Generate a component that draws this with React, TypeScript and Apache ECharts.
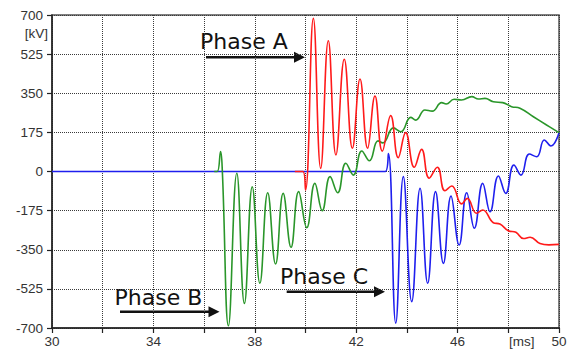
import React, { useEffect, useRef } from "react";
import * as echarts from "echarts";

// Time axis [ms] and voltage axis [kV]
const xLabelValues = [30, 34, 38, 42, 46, 50];
const yTickValues = [-700, -525, -350, -175, 0, 175, 350, 525, 700];

// Phase A (red): [time ms, kV]
const phaseA: [number, number][] = [
  [39.58, 0], [39.9, 0], [40.0, -83], [40.31, 685], [40.6, 14], [40.9, 585],
  [41.2, 74], [41.53, 502], [41.85, 104], [42.15, 414], [42.45, 104], [42.74, 338],
  [43.03, 91], [43.36, 250], [43.66, 62], [43.95, 174], [44.29, 19], [44.58, 99],
  [44.88, -30], [45.2, 19], [45.5, -86], [45.77, -65], [46.16, -145], [46.38, -120],
  [46.75, -187], [46.99, -172], [47.41, -229], [47.67, -235], [48.0, -265],
  [48.3, -272], [48.6, -300], [48.86, -294], [49.25, -322], [49.6, -328], [50, -326],
];

// Phase B (green)
const phaseB: [number, number][] = [
  [36.4, 0], [36.52, 0], [36.65, 89], [36.72, 0], [36.96, -690], [37.29, -8],
  [37.59, -590], [37.9, -68], [38.2, -500], [38.51, -95], [38.82, -414], [39.12, -98],
  [39.43, -339], [39.73, -90], [40.05, -251], [40.37, -53], [40.66, -175], [40.97, -23],
  [41.27, -95], [41.59, 37], [41.89, -16], [42.22, 92], [42.52, 48], [42.86, 137],
  [43.05, 128], [43.47, 195], [43.76, 178], [44.15, 242], [44.35, 230], [44.71, 275],
  [45.0, 270], [45.37, 308], [45.55, 302], [45.86, 323], [46.16, 320], [46.56, 335],
  [46.82, 324], [47.08, 327], [47.41, 312], [47.78, 308], [48.13, 290], [48.46, 283],
  [48.99, 245], [49.51, 208], [50, 174],
];

// Phase C (blue)
const phaseC: [number, number][] = [
  [30, 0], [43.15, 0], [43.27, 80], [43.56, -678], [43.86, -23], [44.19, -582],
  [44.52, -75], [44.82, -500], [45.13, -90], [45.44, -411], [45.74, -110], [46.06, -329],
  [46.36, -95], [46.66, -254], [46.99, -53], [47.28, -180], [47.61, -20], [47.9, -98],
  [48.22, 29], [48.5, -16], [48.83, 78], [49.12, 66], [49.42, 141], [49.68, 114], [50, 174],
];

const labelFont = "Liberation Sans, Arial, sans-serif";
const annFont = "DejaVu Sans, Verdana, sans-serif";

function arrow(x1: number, x2: number, y: number) {
  return [
    { type: "line", shape: { x1, y1: y, x2: x2 - 8, y2: y }, style: { stroke: "#111", lineWidth: 2.5 } },
    {
      type: "polygon",
      shape: { points: [[x2, y], [x2 - 11, y - 5.5], [x2 - 11, y + 5.5]] },
      style: { fill: "#111" },
    },
  ];
}

export default function App() {
  const ref = useRef<HTMLDivElement>(null);
  useEffect(() => {
    if (!ref.current) return;
    const chart = echarts.init(ref.current, undefined, { renderer: "svg" });
    const lineSeries = (name: string, data: [number, number][], color: string) => ({
      name,
      type: "line",
      data,
      smooth: 0.45,
      symbol: "none",
      lineStyle: { color, width: 1.6 },
    });
    chart.setOption({
      animation: false,
      backgroundColor: "#fff",
      grid: {
        left: 52, right: 12, top: 15, bottom: 25,
        show: true, borderColor: "#555", borderWidth: 1.5, backgroundColor: "transparent",
      },
      xAxis: {
        type: "value", min: 30, max: 50, interval: 2,
        axisLine: { show: true, onZero: false, lineStyle: { color: "#222", width: 1.5 } },
        axisTick: { show: true, length: 5, lineStyle: { color: "#222", width: 1.2 } },
        axisLabel: {
          margin: 6, color: "#333", fontSize: 13.5, fontFamily: labelFont,
          formatter: (v: number) => (xLabelValues.includes(v) ? String(v) : ""),
        },
        splitLine: { show: true, lineStyle: { color: "#3a3a3a", type: "dotted", width: 1 } },
      },
      yAxis: {
        type: "value", min: -700, max: 700, interval: 175,
        axisLine: { show: true, onZero: false, lineStyle: { color: "#222", width: 1.5 } },
        axisTick: { show: true, length: 5, lineStyle: { color: "#222", width: 1.2 } },
        axisLabel: {
          margin: 9, color: "#333", fontSize: 13.5, fontFamily: labelFont,
          formatter: (v: number) => (yTickValues.includes(v) ? String(v) : ""),
        },
        splitLine: { show: true, lineStyle: { color: "#3a3a3a", type: "dotted", width: 1 } },
      },
      series: [
        lineSeries("Phase C", phaseC, "#1f1fee"),
        lineSeries("Phase B", phaseB, "#2a962a"),
        lineSeries("Phase A", phaseA, "#ff1a1a"),
      ],
      graphic: [
        { type: "text", x: 48, y: 33, style: { text: "[kV]", align: "right", verticalAlign: "middle", fill: "#333", font: `13.5px ${labelFont}` } },
        { type: "text", x: 509, y: 341, style: { text: "[ms]", align: "left", verticalAlign: "middle", fill: "#333", font: `13.5px ${labelFont}` } },
        { type: "text", x: 200, y: 52.5, style: { text: "Phase A", align: "left", verticalAlign: "bottom", fill: "#111", font: `22px ${annFont}` } },
        ...arrow(206, 305, 57.3),
        { type: "text", x: 114.5, y: 308.5, style: { text: "Phase B", align: "left", verticalAlign: "bottom", fill: "#111", font: `22px ${annFont}` } },
        ...arrow(120, 219.5, 311.7),
        { type: "text", x: 280, y: 287, style: { text: "Phase C", align: "left", verticalAlign: "bottom", fill: "#111", font: `22px ${annFont}` } },
        ...arrow(286.7, 385, 291.7),
      ],
    });
    return () => chart.dispose();
  }, []);
  return <div ref={ref} style={{ position: "fixed", left: 0, top: 0, width: 571, height: 353 }} />;
}
